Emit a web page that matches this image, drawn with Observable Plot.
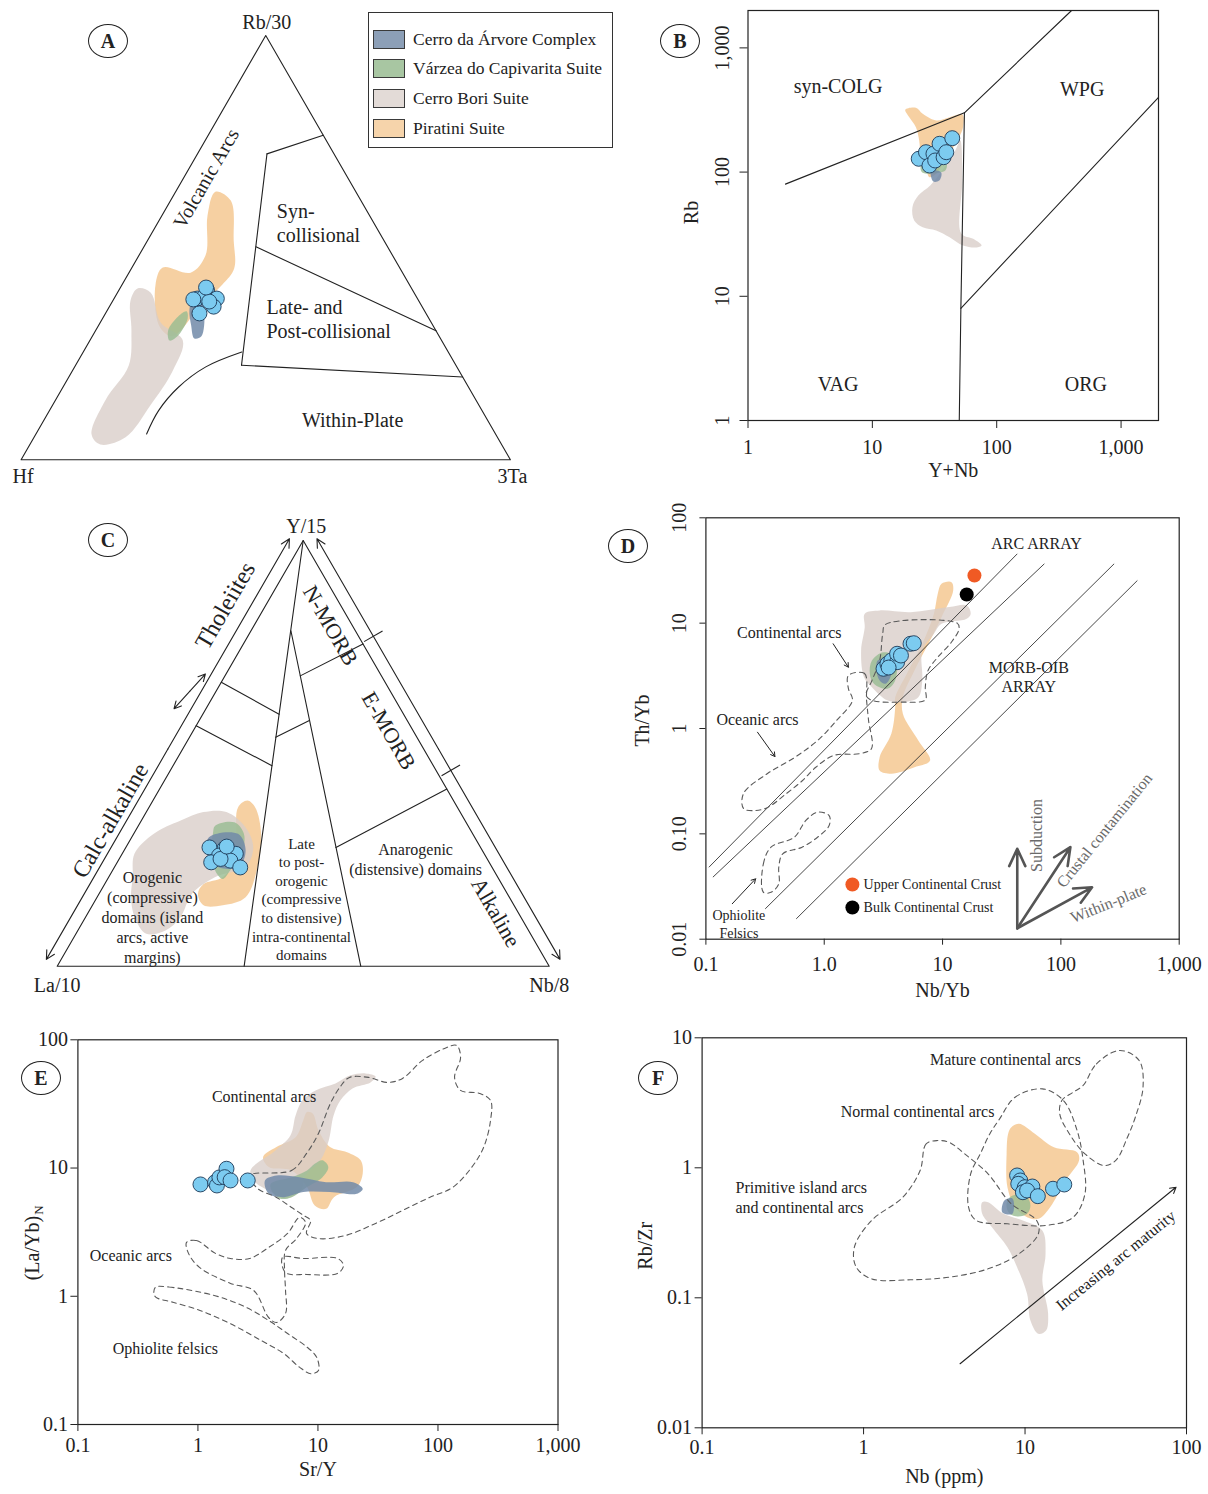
<!DOCTYPE html>
<html>
<head>
<meta charset="utf-8">
<script src="https://cdn.jsdelivr.net/npm/d3@7"></script>
<script src="https://cdn.jsdelivr.net/npm/@observablehq/plot@0.6"></script>
<style>
  html,body{margin:0;padding:0;background:#fff;}
  #fig{position:relative;width:1208px;height:1494px;background:#fff;overflow:hidden;
       font-family:'Liberation Serif','Times New Roman',Times,serif;color:#222;}
  #fig > svg{position:absolute;}
  .tag{position:absolute;width:40px;height:34px;box-sizing:border-box;border:1.3px solid #222;border-radius:50%;
       display:flex;align-items:center;justify-content:center;font-weight:bold;font-size:20px;line-height:1;
       transform:translate(-50%,-50%);background:#fff;}
  #legend{position:absolute;left:368px;top:12px;width:245px;height:136px;box-sizing:border-box;border:1.3px solid #333;background:#fff;}
  .lrow{position:absolute;left:4px;display:flex;align-items:center;font-size:17.5px;white-space:nowrap;height:19px;}
  .sw{width:32px;height:19px;box-sizing:border-box;border:1.2px solid #3a3a3a;margin-right:8px;}
</style>
</head>
<body>
<div id="fig"></div>
<script>
// ================= DATA =================
const suiteNames = ["Cerro da Árvore Complex", "Várzea do Capivarita Suite", "Cerro Bori Suite", "Piratini Suite"];
const suiteSwatch = ["#8c9fb7", "#a8c6a2", "#e3dbd7", "#f6d4ab"];
const panelTags = ["A", "B", "C", "D", "E", "F"];

// ---- Panel A : Hf - Rb/30 - 3Ta  (values: [Hf, Rb/30, 3Ta] %) ----
const A_vertices = [[100, 0, 0], [0, 0, 100], [0, 100, 0]];
const A_vertexNames = ["Hf", "3Ta", "Rb/30"];
const A_samples = [[45,38,17],[42,40,18],[41,38,21],[42.6,36.1,21.3],[46.3,34.5,19.2],[43.3,38.5,18.2],[42.9,37.3,19.8],[45.9,37.8,16.3],[41.9,40.6,17.5]];
const A_piratini = [[28.7,63.2,8.1],[26.6,61.1,12.3],[30.7,51.7,17.6],[33.9,45.1,21],[38.2,41.3,20.5],[45.1,36.4,18.5],[54.5,29.1,16.4],[56,31.4,12.6],[52,41.1,6.9],[48.4,45.3,6.3],[43.3,44.1,12.6],[38.2,48.2,13.6],[33.1,57.6,9.3]];
const A_bori = [[56,40.4,3.6],[53.8,39.4,6.8],[55.3,32.4,12.3],[52.9,28.1,19],[58.5,21,20.5],[67.2,12.8,20],[76,5.3,18.7],[82,3.6,14.4],[82.6,6,11.4],[75.8,14,10.2],[66.9,22.2,10.9],[62.2,30.5,7.3],[58.9,37.5,3.6]];
const A_varzea = [[55.6,28.1,16.3],[53.5,29.1,17.4],[49.3,33.3,17.4],[48.7,35,16.3],[51,33.8,15.2],[54.7,30.5,14.8]];
const A_arvore = [[46.6,37.1,16.3],[44.4,37.5,18.1],[45.2,34.7,20.1],[48.6,29.1,22.3],[50.3,28.6,21.1],[49.4,31.7,18.9],[48,35.2,16.8]];
const A_boundaries = [
  [[0,76.5,23.5],[13.7,72.1,14.2]],
  [[13.7,72.1,14.2],[43.8,22.3,33.9]],
  [[26.9,50.2,22.9],[0,30.4,69.6]],
  [[43.8,22.3,33.9],[0,19.5,80.5]]
];
const A_curve = [[42.2,25.4,32.4],[51.3,21.9,26.8],[59.3,17.1,23.6],[66.1,11.6,22.3],[71.3,6.1,22.6]];
const A_fieldNames = ["Volcanic Arcs", "Syn-\ncollisional", "Late- and\nPost-collisional", "Within-Plate"];
const A_fieldPos = [[29,66.3,4.7],[19.8,55.9,24.3],[33.2,33.3,33.5],[27.6,9.3,63.1]];

// ---- Panel B : Rb vs Y+Nb ----
const B_ticks = [1, 10, 100, 1000];
const B_samples = [[23.6,128],[27,144.6],[28.8,113],[31,140.4],[34.7,169],[32,124],[37.4,131.8],[39.3,144.6],[43.9,187.5]];
const B_piratini = [[18.4,317.5],[22.4,329.6],[25.4,294.6],[32.6,260.4],[41.8,276.7],[53,291],[53.6,230],[49.8,191],[36.9,116.6],[32.6,96.9],[28.8,91],[27,106.4],[24.6,131.8],[23.8,179.6],[22.4,230],[19.8,276.7]];
const B_bori = [[21,52.2],[23.4,64.8],[29.2,78],[36.5,103],[46.4,149],[50.9,179.6],[52.8,85.5],[51.9,32],[64.7,29],[75.6,25.6],[68.5,24.7],[53.6,25.6],[41.8,29.9],[32.6,33.9],[25.4,36],[21.7,40.8]];
const B_arvore = [[29.6,103],[35.8,99.3],[34.5,85.5],[30.9,84]];
const B_varzea = [[24.7,113],[39.3,117],[38.6,103],[25.2,99.3]];
const B_boundaries = [
  [[2,80],[55,300]],
  [[55,300],[400,2000]],
  [[55,300],[51.5,8],[50,1]],
  [[51.5,8],[2000,400]]
];
const B_fieldNames = ["syn-COLG", "WPG", "VAG", "ORG"];
const B_fieldPos = [[5.3,490],[486,464],[5.3,1.94],[521,1.94]];

// ---- Panel C : La/10 - Y/15 - Nb/8 (values: [La/10, Y/15, Nb/8] %) ----
const C_vertices = [[100,0,0],[0,0,100],[0,100,0]];
const C_vertexNames = ["La/10", "Nb/8", "Y/15"];
const C_samples = [[55.1,27.9,17],[52.2,27.6,20.2],[50.5,26.4,23.1],[54.1,26,19.9],[56.5,24.4,19.1],[52.4,24.8,22.8],[51.2,23.2,25.6],[54.2,25.2,20.6],[51.5,28.1,20.4]];
const C_bori = [[74.2,20.9,4.9],[71.1,26.4,2.5],[64.8,31.1,4.1],[57.8,34.2,8],[52.2,36.2,11.6],[47.5,36.2,16.3],[45.4,32.6,22],[46.2,27.9,25.9],[50,23.4,26.6],[57.5,20.9,21.6],[64.1,17,18.9],[69.2,11.5,19.3],[73.8,8.4,17.8],[78.1,7.6,14.3],[78.5,11.5,10],[76.9,16.2,6.9]];
const C_piratini = [[44.6,37.3,18.1],[41.9,38.9,19.2],[41.1,37.3,21.6],[43,31.1,25.9],[47.7,23.2,29.1],[53.6,16.2,30.2],[59.2,14.3,26.5],[63.1,14.3,22.6],[62.9,17,20.1],[60.6,19.3,20.1],[55.9,20.9,23.2],[51.6,24.8,23.6],[48.1,31.1,20.8]];
const C_varzea = [[51.4,33,15.6],[47.1,33.8,19.1],[46.5,31.1,22.4],[49.3,26.4,24.3],[53.6,22.5,23.9],[56.1,20.5,23.4],[56.7,21.7,21.6],[55.5,26.4,18.1],[52.8,31.1,16.1]];
const C_arvore = [[54,30.3,15.7],[47.7,31.1,21.2],[48.1,27.2,24.7],[51.6,23.2,25.2],[56.1,23.6,20.3],[56.3,26.4,17.3]];
const C_boundaries = [
  [[0,100,0],[62,0,38]],
  [[13.1,78.8,8.1],[38.3,0,61.7]],
  [[33.3,66.7,0],[25.3,59.2,15.5]],
  [[43.5,56.5,0],[32.8,47.1,20.1]],
  [[28.7,53.8,17.5],[19.9,57.7,22.4]],
  [[16.5,68.2,15.3],[0,75.7,24.3]],
  [[29.4,27.9,42.7],[0,41.6,58.4]]
];
const C_seriesArrows = [[[101.4,1.6,-3],[2.6,100.4,-3]], [[-3,100.4,2.6],[-3,1.6,101.4]]];
const C_splitArrow = [[46,60.5,-6.5],[35.5,68.5,-4.2]];
const C_crossMarks = [[-3,77.5,25.5],[-3,46,57]];
const C_seriesNames = ["Tholeiites", "Calc-alkaline"];
const C_seriesPos = [[23.5,84.7,-8.2],[72.1,34.2,-6.3]];
const C_morbNames = ["N-MORB", "E-MORB", "Alkaline"];
const C_morbPos = [[4.5,80,15.5],[5,55.3,39.7],[4.6,12.6,82.8]];
const C_domainNames = ["Orogenic\n(compressive)\ndomains (island\narcs, active\nmargins)", "Anarogenic\n(distensive) domains"];
const C_domainPos = [[74.8,11.7,13.5],[14.5,25.3,60.2]];
const C_lateName = "Late\nto post-\norogenic\n(compressive\nto distensive)\nintra-continental\ndomains";
const C_latePos = [42.4,15.9,41.7];

// ---- Panel D : Th/Yb vs Nb/Yb ----
const D_xTicks = [0.1, 1, 10, 100, 1000];
const D_xLabels = ["0.1", "1.0", "10", "100", "1,000"];
const D_yTicks = [0.01, 0.1, 1, 10, 100];
const D_yLabels = ["0.01", "0.10", "1", "10", "100"];
const D_samples = [[3.17,3.69],[3.42,4.11],[3.69,4.42],[4.13,4.26],[4.13,5.12],[4.45,4.93],[5.36,6.37],[5.71,6.45],[3.5,3.79]];
const D_refNames = ["Upper Continental Crust", "Bulk Continental Crust"];
const D_refValues = [[18.6,28.3],[16.0,18.7]];
const D_refKey = [[1.73,0.0331],[1.73,0.0200]];
const D_refKeyTextX = 2.15;
const D_arrays = [
  [[0.106,0.0482],[42.8,45.5]],
  [[0.1146,0.0388],[72.5,36.6]],
  [[0.317,0.0194],[282,36.6]],
  [[0.58,0.0156],[443,25.4]]
];
const D_contArcs = [[3.29,9.70],[13.29,10.0],[13.79,8.84],[11.87,6.59],[9.11,4.75],[7.54,3.55],[7.15,2.47],[7.15,1.87],[4.62,1.78],[2.53,1.85],[2.26,2.06],[2.53,2.85],[2.94,4.42],[3.12,7.92]];
const D_oceArcs = [[1.60,3.18],[2.19,3.33],[2.28,1.85],[2.37,1.19],[2.51,0.646],[2.03,0.579],[1.20,0.554],[0.844,0.426],[0.656,0.321],[0.480,0.2415],[0.332,0.178],[0.263,0.1665],[0.208,0.174],[0.208,0.2415],[0.332,0.374],[0.561,0.530],[0.878,0.769],[1.27,1.19],[1.73,1.85],[1.60,2.40]];
const D_ophio = [[0.306,0.0279],[0.306,0.0519],[0.355,0.0747],[0.559,0.0929],[0.700,0.134],[0.878,0.1605],[1.10,0.149],[1.10,0.120],[0.878,0.0929],[0.650,0.0747],[0.446,0.0646],[0.413,0.0482],[0.413,0.0336],[0.355,0.0279]];
const D_bori = [[2.20,12.3],[2.94,13.2],[5.36,12.7],[11.4,14.2],[16.0,14.7],[17.3,12.3],[16.0,11.0],[9.80,9.86],[8.45,7.92],[6.74,5.50],[6.74,2.85],[6.24,1.98],[4.62,1.78],[3.42,1.85],[2.53,2.47],[2.17,3.07],[2.05,5.50],[2.20,9.15]];
const D_piratini = [[9.80,23.6],[11.9,24.5],[12.3,20.4],[9.80,11.4],[7.84,6.84],[5.79,3.55],[4.62,1.98],[4.62,1.38],[6.24,0.769],[7.84,0.497],[5.80,0.429],[3.69,0.372],[2.94,0.399],[2.94,0.534],[3.69,0.891],[3.98,1.59],[3.98,1.98],[4.98,3.30],[6.74,6.37],[8.45,12.3],[9.11,19.0]];
const D_varzea = [[2.53,4.42],[3.17,5.30],[3.98,4.75],[3.98,2.85],[3.42,2.38],[2.63,2.66],[2.43,3.30]];
const D_arvore = [[2.83,4.42],[3.42,4.59],[3.69,3.30],[3.29,2.66],[2.94,2.85],[2.77,3.55]];
const D_textNames = ["ARC ARRAY", "Continental arcs", "MORB-OIB\nARRAY", "Oceanic arcs"];
const D_textPos = [[62.3,57.4],[0.507,8.2],[53.6,3.1],[0.273,1.24]];
const D_ophioName = "Ophiolite\nFelsics";
const D_ophioPos = [0.19,0.0142];
const D_pointers = [[[1.19,6.37],[1.60,3.82]], [[0.273,0.922],[0.383,0.542]], [[0.167,0.0217],[0.263,0.0374]]];
const D_vectorOrigin = [42.8,0.0127];
const D_vectorEnds = [[42.8,0.0721],[120.3,0.0747],[183.5,0.0311]];
const D_vectorNames = ["Subduction", "Crustal contamination", "Within-plate"];
const D_vectorNamePos = [[62.3,0.0964],[234,0.1076],[253,0.0218]];

// ---- Panel E : (La/Yb)N vs Sr/Y ----
const E_xTicks = [0.1, 1, 10, 100, 1000];
const E_xLabels = ["0.1", "1", "10", "100", "1,000"];
const E_yTicks = [0.1, 1, 10, 100];
const E_yLabels = ["0.1", "1", "10", "100"];
const E_samples = [[1.05,7.45],[1.39,7.76],[1.44,7.31],[1.51,8.45],[1.73,9.87],[1.67,8.49],[1.87,8.0],[2.6,8.0]];
const E_bori = [[2.74,9.58],[4.43,13.7],[5.91,18.0],[6.51,25.7],[7.44,33.7],[9.55,40.3],[14.0,45.7],[18.7,52.8],[24.9,54.7],[30.2,51.8],[27.4,46.5],[19.4,41.8],[15.4,33.7],[13.5,25.7],[12.3,16.4],[10.5,11.5],[7.88,8.75],[7.16,6.69],[5.37,5.79],[3.88,6.69],[3.02,7.72]];
const E_piratini = [[8.11,27.3],[9.07,26.5],[10.1,19.7],[12.6,14.6],[17.5,13.3],[22.7,11.5],[23.6,9.03],[21.1,7.10],[13.6,5.93],[11.7,4.81],[9.40,5.11],[8.11,7.10],[6.05,9.58],[3.89,10.2],[3.49,12.2],[4.51,14.6],[6.51,17.4],[7.54,23.5]];
const E_arvore = [[3.62,8.0],[4.51,8.75],[7.01,8.49],[11.7,7.76],[19.6,7.76],[23.6,6.90],[21.1,6.30],[12.6,6.49],[7.54,6.49],[5.22,5.93],[3.89,6.30]];
const E_varzea = [[4.04,7.54],[6.05,8.49],[8.11,9.58],[9.40,10.8],[10.9,11.5],[12.2,10.2],[10.9,8.49],[8.11,7.10],[6.05,5.93],[4.85,5.76],[4.18,6.49]];
const E_contArcs = [[2.69,8.75],[6.03,9.58],[8.04,13.0],[10.1,18.6],[12.7,31.9],[15.4,43.3],[18.3,50.9],[26.4,50.9],[38.0,46.5],[50.7,50.0],[74.4,69.1],[113.5,85.7],[142.9,90.4],[154.3,72.9],[137.5,50.9],[154.3,40.3],[222,38.2],[274,33.7],[274,23.5],[240,14.5],[190.5,10.1],[132.3,7.06],[85.1,5.90],[50.7,4.67],[30.2,3.70],[17.0,2.98],[10.1,2.82],[8.04,3.09],[8.68,3.90],[7.59,4.27],[6.03,4.93],[4.52,5.90],[3.14,6.93]];
const E_oceArcs = [[0.804,2.63],[0.973,2.72],[1.40,2.16],[1.87,1.97],[2.69,1.97],[3.88,2.40],[5.58,3.09],[7.03,4.12],[7.88,3.76],[6.63,2.82],[5.37,2.28],[5.27,1.59],[5.37,1.11],[5.37,0.734],[4.52,0.625],[3.88,0.683],[2.91,1.11],[1.87,1.26],[1.03,1.68],[0.835,2.16]];
const E_oceLoop = [[5.07,2.01],[7.59,1.97],[14.6,1.97],[16.3,1.74],[14.6,1.51],[8.04,1.48],[5.37,1.53]];
const E_ophio = [[0.445,1.18],[0.575,1.18],[1.39,1.01],[2.50,0.822],[3.89,0.647],[5.62,0.510],[8.11,0.401],[9.75,0.335],[10.1,0.264],[8.73,0.249],[7.01,0.280],[5.22,0.356],[3.36,0.452],[1.87,0.610],[1.04,0.775],[0.619,0.899],[0.445,0.984],[0.429,1.08]];
const E_textNames = ["Continental arcs", "Oceanic arcs", "Ophiolite felsics"];
const E_textPos = [[3.56,36.2],[0.276,2.08],[0.535,0.389]];

// ---- Panel F : Rb/Zr vs Nb ----
const F_xTicks = [0.1, 1, 10, 100];
const F_xLabels = ["0.1", "1", "10", "100"];
const F_yTicks = [0.01, 0.1, 1, 10];
const F_yLabels = ["0.01", "0.1", "1", "10"];
const F_samples = [[8.93,0.873],[9.34,0.799],[9.08,0.753],[9.97,0.709],[11.1,0.718],[9.70,0.649],[10.3,0.669],[12.0,0.605],[14.9,0.690],[17.5,0.744]];
const F_piratini = [[8.23,2.05],[9.18,2.18],[11.5,1.83],[15.1,1.44],[21.0,1.32],[21.6,1.14],[17.8,0.799],[14.3,0.498],[12.1,0.405],[10.3,0.417],[8.68,0.498],[7.78,0.709],[7.69,1.28],[7.86,1.83]];
const F_bori = [[5.43,0.544],[5.90,0.544],[7.36,0.443],[9.70,0.393],[12.8,0.329],[13.4,0.218],[12.8,0.136],[13.9,0.0753],[13.5,0.056],[12.1,0.0528],[10.8,0.0669],[10.3,0.107],[8.93,0.172],[7.78,0.245],[6.24,0.349],[5.43,0.443]];
const F_varzea = [[7.67,0.513],[8.01,0.591],[9.10,0.623],[10.35,0.591],[10.8,0.513],[10.35,0.445],[9.10,0.422],[8.01,0.445]];
const F_arvore = [[7.24,0.453],[7.45,0.560],[8.36,0.581],[8.36,0.443]];
const F_mature = [[22.9,4.30],[27.7,6.31],[38.6,7.99],[50.9,6.69],[53.8,4.17],[48.2,2.45],[43.1,1.72],[36.5,1.14],[31.0,1.04],[23.5,1.28],[18.8,1.83],[16.4,2.60],[16.9,3.29],[19.9,3.82]];
const F_normal = [[6.96,2.38],[8.68,3.49],[12.8,4.05],[17.3,3.29],[21.0,1.94],[22.9,1.14],[23.5,0.631],[19.9,0.417],[13.5,0.360],[7.78,0.371],[5.00,0.393],[4.47,0.498],[4.60,0.893],[5.28,1.28],[6.06,1.83]];
const F_primitive = [[2.88,1.62],[2.44,1.53],[2.24,0.953],[1.75,0.594],[1.12,0.393],[0.877,0.245],[0.901,0.172],[1.12,0.140],[1.95,0.1376],[3.39,0.144],[5.90,0.167],[9.18,0.218],[12.1,0.311],[11.8,0.393],[8.23,0.528],[5.90,0.899],[4.23,1.28],[3.39,1.57]];
const F_textNames = ["Mature continental arcs", "Normal continental arcs"];
const F_textPos = [[7.56,6.77],[2.16,2.68]];
const F_primName = "Primitive island arcs\nand continental arcs";
const F_primPos = [0.161,0.598];
const F_trend = [[3.96,0.0311],[86.1,0.709]];
const F_trendName = "Increasing arc maturity";
const F_trendPos = [36.5,0.1935];

// ================= HELPERS =================
const SERIF = "'Liberation Serif','Times New Roman',Times,serif";
const INK = "#222";
const FILL = {piratini: "#f4c892", bori: "#d9cdc8", varzea: "#97bc91", arvore: "#7189a8"};
const OPAC = {piratini: 0.85, bori: 0.78, varzea: 0.8, arvore: 0.85};
const DOT = {r: 7.5, fill: "#7ccbf0", stroke: "#1d3957", strokeWidth: 0.9};
const DASH = {stroke: "#5a5a5a", strokeWidth: 1.1, strokeDasharray: "5,4", fill: "none", curve: "catmull-rom-closed"};
const style = () => ({fontFamily: SERIF, fontSize: "20px", color: INK, background: "none", overflow: "visible"});
const VERT = {rotate: -90, textAnchor: "middle", frameAnchor: "left"};

function tern(p) { const s = p[0] + p[1] + p[2]; const r = p[1] / s, t = p[2] / s; return {x: t + r / 2, y: r}; }
const tr = a => a.map(tern);
const xy = a => a.map(d => ({x: d[0], y: d[1]}));
const lab = (names, pos, conv) => names.map((n, i) => ({text: n, ...conv(pos[i])}));
const pxy = p => ({x: p[0], y: p[1]});

function fields(set, conv) {
  return ["piratini", "bori", "varzea", "arvore"].filter(k => set[k]).map(k =>
    Plot.line(conv(set[k]), {x: "x", y: "y", curve: "catmull-rom-closed", fill: FILL[k], fillOpacity: OPAC[k], stroke: "none"}));
}
function dblArrow(p1, p2) {
  const a = tern(p1), b = tern(p2), m = {x: (a.x + b.x) / 2, y: (a.y + b.y) / 2};
  return [{x1: m.x, y1: m.y, x2: a.x, y2: a.y}, {x1: m.x, y1: m.y, x2: b.x, y2: b.y}];
}
const fig = document.getElementById("fig");
function put(svg, left, top) { svg.style.left = left + "px"; svg.style.top = top + "px"; fig.appendChild(svg); }

// ================= PANEL A =================
const pA = Plot.plot({
  width: 620, height: 500, marginLeft: 20.6, marginRight: 110.1, marginTop: 35, marginBottom: 40.7,
  x: {domain: [0, 1], axis: null}, y: {domain: [0, 1], axis: null}, style: style(),
  marks: [
    ...fields({piratini: A_piratini, bori: A_bori, varzea: A_varzea, arvore: A_arvore}, tr),
    Plot.line(tr(A_vertices), {x: "x", y: "y", curve: "linear-closed", stroke: INK, strokeWidth: 1.1}),
    ...A_boundaries.map(s => Plot.line(tr(s), {x: "x", y: "y", stroke: INK, strokeWidth: 1.1})),
    Plot.line(tr(A_curve), {x: "x", y: "y", curve: "catmull-rom", stroke: INK, strokeWidth: 1.1}),
    Plot.dot(tr(A_samples), {x: "x", y: "y", ...DOT}),
    Plot.text(lab(A_vertexNames.slice(0, 2), A_vertices, tern), {x: "x", y: "y", text: "text", dy: 17, dx: 2}),
    Plot.text(lab(A_vertexNames.slice(2), A_vertices.slice(2), tern), {x: "x", y: "y", text: "text", dy: -13, dx: 1}),
    Plot.text(lab(A_fieldNames.slice(0, 1), A_fieldPos, tern), {x: "x", y: "y", text: "text", rotate: -60}),
    Plot.text(lab(A_fieldNames.slice(1, 3), A_fieldPos.slice(1, 3), tern), {x: "x", y: "y", text: "text", textAnchor: "start", lineHeight: 1.2}),
    Plot.text(lab(A_fieldNames.slice(3), A_fieldPos.slice(3), tern), {x: "x", y: "y", text: "text"})
  ]
});
put(pA, 0, 0);

// ================= PANEL B =================
const pB = Plot.plot({
  width: 588, height: 500, marginLeft: 127.5, marginRight: 50, marginTop: 10, marginBottom: 80,
  x: {type: "log", domain: [1, 2000]}, y: {type: "log", domain: [1, 2000]}, style: style(),
  marks: [
    ...fields({piratini: B_piratini, bori: B_bori, varzea: B_varzea, arvore: B_arvore}, xy),
    ...B_boundaries.map(s => Plot.line(xy(s), {x: "x", y: "y", stroke: INK, strokeWidth: 1.1})),
    Plot.frame({stroke: INK, strokeWidth: 1.2}),
    Plot.axisX({ticks: B_ticks, tickFormat: d3.format(","), tickSize: 8, tickPadding: 11, label: null}),
    Plot.axisY({ticks: B_ticks, tickFormat: () => "", tickSize: 8, label: null}),
    Plot.text(B_ticks, {y: d => d, text: d => d3.format(",")(d), dx: -25, ...VERT}),
    Plot.text(["Y+Nb"], {text: d => d, frameAnchor: "bottom", dy: 56}),
    Plot.text(["Rb"], {text: d => d, dx: -56, dy: -3, ...VERT}),
    Plot.text(lab(B_fieldNames, B_fieldPos, pxy), {x: "x", y: "y", text: "text"}),
    Plot.dot(xy(B_samples), {x: "x", y: "y", ...DOT})
  ]
});
put(pB, 620, 0);

// ================= PANEL C =================
const C_cross = C_crossMarks.map(c => {
  const a = tern([c[0] + 2.5, c[1] - 1.25, c[2] - 1.25]), b = tern([c[0] - 2.5, c[1] + 1.25, c[2] + 1.25]);
  return {x1: a.x, y1: a.y, x2: b.x, y2: b.y};
});
const pC = Plot.plot({
  width: 600, height: 500, marginLeft: 56.7, marginRight: 51.3, marginTop: 40, marginBottom: 34.3,
  x: {domain: [0, 1], axis: null}, y: {domain: [0, 1], axis: null}, style: style(),
  marks: [
    ...fields({bori: C_bori, piratini: C_piratini, varzea: C_varzea, arvore: C_arvore}, tr),
    Plot.line(tr(C_vertices), {x: "x", y: "y", curve: "linear-closed", stroke: INK, strokeWidth: 1.1}),
    ...C_boundaries.map(s => Plot.line(tr(s), {x: "x", y: "y", stroke: INK, strokeWidth: 1.1})),
    Plot.arrow(C_seriesArrows.flatMap(s => dblArrow(s[0], s[1])), {x1: "x1", y1: "y1", x2: "x2", y2: "y2", stroke: INK, strokeWidth: 1.1, headLength: 13, headAngle: 55}),
    Plot.arrow(dblArrow(C_splitArrow[0], C_splitArrow[1]), {x1: "x1", y1: "y1", x2: "x2", y2: "y2", stroke: INK, strokeWidth: 1.1, headLength: 11, headAngle: 55}),
    Plot.link(C_cross, {x1: "x1", y1: "y1", x2: "x2", y2: "y2", stroke: INK, strokeWidth: 1.1}),
    Plot.dot(tr(C_samples), {x: "x", y: "y", ...DOT}),
    Plot.text(lab(C_vertexNames.slice(0, 2), C_vertices, tern), {x: "x", y: "y", text: "text", dy: 19}),
    Plot.text(lab(C_vertexNames.slice(2), C_vertices.slice(2), tern), {x: "x", y: "y", text: "text", dy: -14, dx: 3}),
    Plot.text(lab(C_seriesNames, C_seriesPos, tern), {x: "x", y: "y", text: "text", rotate: -60, fontSize: 24}),
    Plot.text(lab(C_morbNames, C_morbPos, tern), {x: "x", y: "y", text: "text", rotate: 60, fontSize: 22}),
    Plot.text(lab(C_domainNames, C_domainPos, tern), {x: "x", y: "y", text: "text", fontSize: 16, lineHeight: 1.25}),
    Plot.text([{text: C_lateName, ...tern(C_latePos)}], {x: "x", y: "y", text: "text", fontSize: 15, lineHeight: 1.24})
  ]
});
put(pC, 0, 500);

// ================= PANEL D =================
const dxLab = new Map(D_xTicks.map((t, i) => [t, D_xLabels[i]]));
const dyLab = new Map(D_yTicks.map((t, i) => [t, D_yLabels[i]]));
const pD = Plot.plot({
  width: 608, height: 520, marginLeft: 105.4, marginRight: 29.3, marginTop: 17.3, marginBottom: 81.3,
  x: {type: "log", domain: [0.1, 1000]}, y: {type: "log", domain: [0.01, 100]}, style: style(),
  marks: [
    ...fields({piratini: D_piratini, bori: D_bori, varzea: D_varzea, arvore: D_arvore}, xy),
    Plot.link(D_arrays, {x1: d => d[0][0], y1: d => d[0][1], x2: d => d[1][0], y2: d => d[1][1], stroke: "#333", strokeWidth: 0.9}),
    Plot.line(xy(D_contArcs), {x: "x", y: "y", ...DASH}),
    Plot.line(xy(D_oceArcs), {x: "x", y: "y", ...DASH}),
    Plot.line(xy(D_ophio), {x: "x", y: "y", ...DASH}),
    Plot.frame({stroke: INK, strokeWidth: 1.2}),
    Plot.axisX({ticks: D_xTicks, tickFormat: d => dxLab.get(d), tickSize: 6, tickPadding: 12, label: null}),
    Plot.axisY({ticks: D_yTicks, tickFormat: () => "", tickSize: 6, label: null}),
    Plot.text(D_yTicks, {y: d => d, text: d => dyLab.get(d), dx: -26, ...VERT}),
    Plot.text(["Nb/Yb"], {text: d => d, frameAnchor: "bottom", dy: 58}),
    Plot.text(["Th/Yb"], {text: d => d, dx: -63, dy: -8, ...VERT}),
    Plot.arrow(D_pointers, {x1: d => d[0][0], y1: d => d[0][1], x2: d => d[1][0], y2: d => d[1][1], stroke: INK, strokeWidth: 1, headLength: 7}),
    Plot.arrow(D_vectorEnds, {x1: () => D_vectorOrigin[0], y1: () => D_vectorOrigin[1], x2: d => d[0], y2: d => d[1], stroke: "#555", strokeWidth: 2.6, headLength: 11, headAngle: 50}),
    Plot.text(lab(D_vectorNames.slice(0, 1), D_vectorNamePos, pxy), {x: "x", y: "y", text: "text", rotate: -90, fontSize: 16, fill: "#6a6a6a"}),
    Plot.text(lab(D_vectorNames.slice(1, 2), D_vectorNamePos.slice(1, 2), pxy), {x: "x", y: "y", text: "text", rotate: -51, fontSize: 16, fill: "#6a6a6a"}),
    Plot.text(lab(D_vectorNames.slice(2), D_vectorNamePos.slice(2), pxy), {x: "x", y: "y", text: "text", rotate: -22, fontSize: 16, fill: "#6a6a6a"}),
    Plot.text(lab(D_textNames, D_textPos, pxy), {x: "x", y: "y", text: "text", fontSize: 16, lineHeight: 1.2}),
    Plot.text([{text: D_ophioName, ...pxy(D_ophioPos)}], {x: "x", y: "y", text: "text", fontSize: 14, lineHeight: 1.3}),
    Plot.dot(xy(D_samples), {x: "x", y: "y", ...DOT}),
    Plot.dot(xy(D_refValues), {x: "x", y: "y", r: 7, fill: (d, i) => ["#f05a24", "#000"][i]}),
    Plot.dot(xy(D_refKey), {x: "x", y: "y", r: 7, fill: (d, i) => ["#f05a24", "#000"][i]}),
    Plot.text(D_refNames.map((n, i) => ({text: n, x: D_refKeyTextX, y: D_refKey[i][1]})), {x: "x", y: "y", text: "text", textAnchor: "start", fontSize: 14})
  ]
});
put(pD, 600, 500);

// ================= PANEL E =================
const exLab = new Map(E_xTicks.map((t, i) => [t, E_xLabels[i]]));
const eyLab = new Map(E_yTicks.map((t, i) => [t, E_yLabels[i]]));
const pE = Plot.plot({
  width: 600, height: 474, marginLeft: 77.4, marginRight: 42.5, marginTop: 19.3, marginBottom: 70,
  x: {type: "log", domain: [0.1, 1000]}, y: {type: "log", domain: [0.1, 100]}, style: style(),
  marks: [
    ...fields({piratini: E_piratini, bori: E_bori, varzea: E_varzea, arvore: E_arvore}, xy),
    Plot.line(xy(E_contArcs), {x: "x", y: "y", ...DASH}),
    Plot.line(xy(E_oceArcs), {x: "x", y: "y", ...DASH}),
    Plot.line(xy(E_oceLoop), {x: "x", y: "y", ...DASH}),
    Plot.line(xy(E_ophio), {x: "x", y: "y", ...DASH}),
    Plot.frame({stroke: INK, strokeWidth: 1.2}),
    Plot.axisX({ticks: E_xTicks, tickFormat: d => exLab.get(d), tickSize: 7, tickPadding: 6, label: null}),
    Plot.axisY({ticks: E_yTicks, tickFormat: d => eyLab.get(d), tickSize: 7, tickPadding: 3, label: null}),
    Plot.text(["Sr/Y"], {text: d => d, frameAnchor: "bottom", dy: 51}),
    Plot.text(["(La/Yb)"], {text: d => d, dx: -45, dy: 16, ...VERT}),
    Plot.text(["N"], {text: d => d, dx: -39, dy: -22, fontSize: 13, ...VERT}),
    Plot.text(lab(E_textNames, E_textPos, pxy), {x: "x", y: "y", text: "text", fontSize: 16}),
    Plot.dot(xy(E_samples), {x: "x", y: "y", ...DOT})
  ]
});
put(pE, 0, 1020);

// ================= PANEL F =================
const fxLab = new Map(F_xTicks.map((t, i) => [t, F_xLabels[i]]));
const fyLab = new Map(F_yTicks.map((t, i) => [t, F_yLabels[i]]));
const pF = Plot.plot({
  width: 608, height: 474, marginLeft: 101.6, marginRight: 22, marginTop: 17.3, marginBottom: 66.7,
  x: {type: "log", domain: [0.1, 100]}, y: {type: "log", domain: [0.01, 10]}, style: style(),
  marks: [
    ...fields({piratini: F_piratini, bori: F_bori, varzea: F_varzea, arvore: F_arvore}, xy),
    Plot.line(xy(F_mature), {x: "x", y: "y", ...DASH}),
    Plot.line(xy(F_normal), {x: "x", y: "y", ...DASH}),
    Plot.line(xy(F_primitive), {x: "x", y: "y", ...DASH}),
    Plot.frame({stroke: INK, strokeWidth: 1.2}),
    Plot.axisX({ticks: F_xTicks, tickFormat: d => fxLab.get(d), tickSize: 7, tickPadding: 5, label: null}),
    Plot.axisY({ticks: F_yTicks, tickFormat: d => fyLab.get(d), tickSize: 7, tickPadding: 3, label: null}),
    Plot.text(["Nb (ppm)"], {text: d => d, frameAnchor: "bottom", dy: 55}),
    Plot.text(["Rb/Zr"], {text: d => d, dx: -57, dy: 13, ...VERT}),
    Plot.arrow([F_trend], {x1: d => d[0][0], y1: d => d[0][1], x2: d => d[1][0], y2: d => d[1][1], stroke: INK, strokeWidth: 1.1, headLength: 9}),
    Plot.text([{text: F_trendName, ...pxy(F_trendPos)}], {x: "x", y: "y", text: "text", rotate: -39, fontSize: 16}),
    Plot.text(lab(F_textNames, F_textPos, pxy), {x: "x", y: "y", text: "text", fontSize: 16}),
    Plot.text([{text: F_primName, ...pxy(F_primPos)}], {x: "x", y: "y", text: "text", fontSize: 16, textAnchor: "start", lineHeight: 1.22}),
    Plot.dot(xy(F_samples), {x: "x", y: "y", ...DOT})
  ]
});
put(pF, 600, 1020);

// ================= LEGEND & PANEL TAGS =================
const legend = document.createElement("div");
legend.id = "legend";
const rowTops = [16.5, 45.5, 76, 105.5];
suiteNames.forEach((n, i) => {
  const row = document.createElement("div");
  row.className = "lrow";
  row.style.top = rowTops[i] + "px";
  const sw = document.createElement("span");
  sw.className = "sw";
  sw.style.background = suiteSwatch[i];
  const tx = document.createElement("span");
  tx.textContent = n;
  row.appendChild(sw); row.appendChild(tx);
  legend.appendChild(row);
});
fig.appendChild(legend);

const tagPos = [[108, 41], [680, 41], [108, 540], [628, 546], [41, 1078], [658, 1078]];
panelTags.forEach((t, i) => {
  const d = document.createElement("div");
  d.className = "tag";
  d.textContent = t;
  d.style.left = tagPos[i][0] + "px";
  d.style.top = tagPos[i][1] + "px";
  fig.appendChild(d);
});
</script>
</body>
</html>
